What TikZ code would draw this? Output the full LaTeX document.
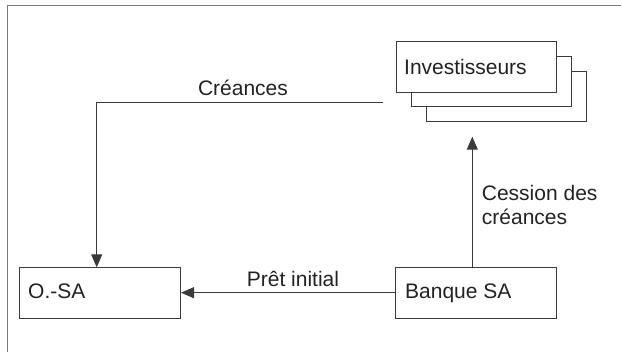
\documentclass[tikz,border=0pt]{standalone}
\usepackage{fontspec}
\setmainfont{Liberation Sans}
\usetikzlibrary{arrows.meta}
\definecolor{linec}{HTML}{3A3A3A}
\definecolor{framec}{HTML}{7A7A7A}
\definecolor{txtc}{HTML}{222222}
\begin{document}
\begin{tikzpicture}[x=1pt,y=-1pt,
  box/.style={draw=linec,line width=1pt,fill=white},
  lbl/.style={text=txtc,font=\fontsize{21}{24}\selectfont,inner sep=0pt},
  conn/.style={draw=linec,line width=1pt},
  tip/.style={-{Triangle[length=13pt,width=11pt]}}]
\useasboundingbox (0,0) rectangle (621,352);
\draw[framec,line width=1.2pt] (7.3,360) -- (7.3,5.6) -- (630,5.6);
% Investisseurs stack
\draw[box] (426,71.5) rectangle (586,122);
\draw[box] (411,56.5) rectangle (571,107);
\node[box,minimum width=160pt,minimum height=50.5pt,anchor=north west,inner sep=0pt] (inv) at (396,41.5) {};
\node[lbl,anchor=base west] (invt) at (404,75) {Investisseurs};
% O.-SA
\node[box,minimum width=161pt,minimum height=51pt,anchor=north west,inner sep=0pt] (osa) at (19,267.3) {};
\node[lbl,anchor=base west] (osat) at (28,298.3) {O.-SA};
% Banque SA
\node[box,minimum width=161pt,minimum height=51pt,anchor=north west,inner sep=0pt] (bq) at (395,267.3) {};
\node[lbl,anchor=base west] (bqt) at (405,298.3) {Banque SA};
% Créances connector
\coordinate (cstart) at (383,102.3);
\coordinate (ccorner) at (96.7,102.3);
\draw[conn,tip] (cstart) -- (ccorner) -- (ccorner |- osa.north);
\node[lbl,anchor=base] (cre) at (243,96) {Créances};
% Prêt initial
\draw[conn,tip] (bq.west |- 0,292.7) -- (osa.east |- 0,292.7);
\node[lbl,anchor=base] (pret) at (293,286.7) {Prêt initial};
% Cession
\coordinate (cestop) at (472.3,136.7);
\draw[conn,tip] (cestop |- bq.north) -- (cestop);
\node[lbl,anchor=base west,align=left] (ces1) at (481.7,200.7) {Cession des};
\node[lbl,anchor=base west] (ces2) at (481.7,224.7) {créances};
\end{tikzpicture}
\end{document}
